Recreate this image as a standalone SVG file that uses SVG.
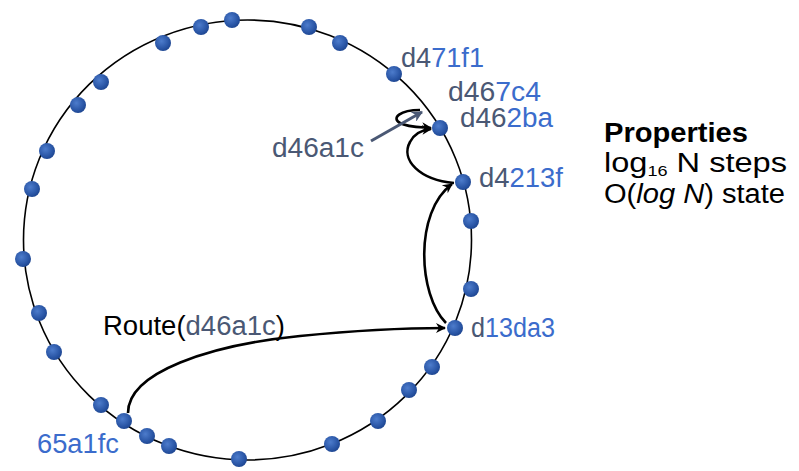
<svg xmlns="http://www.w3.org/2000/svg" width="799" height="471" viewBox="0 0 799 471">
<style>
  text { font-family: "Liberation Sans", Arial, sans-serif; font-size: 27px; }
  .s { fill: #4a5874; }
  .b { fill: #3b6ccc; }
  .k { fill: #000000; }
  .node { fill: url(#ball); }
  .hop { fill: none; stroke: #000; stroke-width: 2.6; marker-end: url(#ah); }
</style>
<defs>
  <radialGradient id="ball" cx="0.4" cy="0.38" r="0.65">
    <stop offset="0" stop-color="#4d7ccc"/>
    <stop offset="0.7" stop-color="#2a56a6"/>
    <stop offset="1" stop-color="#1d4590"/>
  </radialGradient>
  <marker id="ah" viewBox="0 0 10 10" refX="9" refY="5" markerWidth="12" markerHeight="10" markerUnits="userSpaceOnUse" orient="auto">
    <path d="M0,0 L10,5 L0,10 L3,5 Z" fill="#000"/>
  </marker>
  <marker id="ahs" viewBox="0 0 10 10" refX="9" refY="5" markerWidth="14" markerHeight="11" markerUnits="userSpaceOnUse" orient="auto">
    <path d="M0,0 L10,5 L0,10 L3,5 Z" fill="#4a5874"/>
  </marker>
</defs>
<rect width="799" height="471" fill="#fff"/>
<g id="ring">
  <ellipse cx="247.5" cy="240" rx="224" ry="220" fill="none" stroke="#000" stroke-width="1.6"/>
</g>
<g id="connectors">
  <path class="hop" d="M128,413 C128,372 210,345 300,336 C360,330 405,328 445,328"/>
  <path class="hop" d="M446,323 C418,295 414,212 452,184"/>
  <path class="hop" d="M454,183 C420,180 400,160 410,142 C414,134 421,130 431,129"/>
  <path class="hop" d="M420,110 C400,110 391,118 400,123 C407,127 418,127 431,128"/>
  <path d="M371,141 L422,112" fill="none" stroke="#4a5874" stroke-width="3" marker-end="url(#ahs)"/>
</g>
<g id="nodes">
  <g id="n1"><circle class="node" cx="232" cy="20" r="8"/></g>
  <g id="n2"><circle class="node" cx="201" cy="27" r="8"/></g>
  <g id="n3"><circle class="node" cx="163" cy="43" r="8"/></g>
  <g id="n4"><circle class="node" cx="101" cy="82" r="8"/></g>
  <g id="n5"><circle class="node" cx="78" cy="105" r="8"/></g>
  <g id="n6"><circle class="node" cx="47" cy="151" r="8"/></g>
  <g id="n7"><circle class="node" cx="32" cy="189" r="8"/></g>
  <g id="n8"><circle class="node" cx="23" cy="259" r="8"/></g>
  <g id="n9"><circle class="node" cx="39" cy="313" r="8"/></g>
  <g id="n10"><circle class="node" cx="54" cy="352" r="8"/></g>
  <g id="n11"><circle class="node" cx="101" cy="405" r="8"/></g>
  <g id="n65a1fc"><circle class="node" cx="124" cy="421" r="8"/>
    <text x="37" y="453" class="b" textLength="82" lengthAdjust="spacingAndGlyphs">65a1fc</text></g>
  <g id="n13"><circle class="node" cx="147" cy="436" r="8"/></g>
  <g id="n14"><circle class="node" cx="169" cy="446" r="8"/></g>
  <g id="n15"><circle class="node" cx="239" cy="459" r="8"/></g>
  <g id="n16"><circle class="node" cx="332" cy="444" r="8"/></g>
  <g id="n17"><circle class="node" cx="378" cy="421" r="8"/></g>
  <g id="n18"><circle class="node" cx="409" cy="390" r="8"/></g>
  <g id="n19"><circle class="node" cx="432" cy="367" r="8"/></g>
  <g id="nd13da3"><circle class="node" cx="455" cy="328" r="8"/>
    <text x="471" y="337" textLength="84" lengthAdjust="spacingAndGlyphs"><tspan class="s">d</tspan><tspan class="b">13da3</tspan></text></g>
  <g id="n21"><circle class="node" cx="471" cy="289" r="8"/></g>
  <g id="n22"><circle class="node" cx="471" cy="221" r="8"/></g>
  <g id="nd4213f"><circle class="node" cx="463" cy="182" r="8"/>
    <text x="479" y="187" textLength="84" lengthAdjust="spacingAndGlyphs"><tspan class="s">d4</tspan><tspan class="b">213f</tspan></text></g>
  <g id="nd462ba"><circle class="node" cx="440" cy="128" r="8"/>
    <text x="460" y="127" textLength="93" lengthAdjust="spacingAndGlyphs"><tspan class="s">d46</tspan><tspan class="b">2ba</tspan></text></g>
  <g id="nd467c4">
    <text x="448" y="101" textLength="93" lengthAdjust="spacingAndGlyphs"><tspan class="s">d46</tspan><tspan class="b">7c4</tspan></text></g>
  <g id="nd471f1"><circle class="node" cx="394" cy="74" r="8"/>
    <text x="401" y="67" textLength="83" lengthAdjust="spacingAndGlyphs"><tspan class="s">d4</tspan><tspan class="b">71f1</tspan></text></g>
  <g id="n26"><circle class="node" cx="340" cy="43" r="8"/></g>
  <g id="n27"><circle class="node" cx="309" cy="27" r="8"/></g>
</g>
<g id="labels">
  <text x="272" y="157" class="s" textLength="92" lengthAdjust="spacingAndGlyphs">d46a1c</text>
  <text x="103" y="335" textLength="182" lengthAdjust="spacingAndGlyphs"><tspan class="k">Route(</tspan><tspan class="s">d46a1c</tspan><tspan class="k">)</tspan></text>
</g>
<g id="properties">
  <text x="604" y="142" font-weight="bold" textLength="144" lengthAdjust="spacingAndGlyphs">Properties</text>
  <text x="604" y="172" textLength="183" lengthAdjust="spacingAndGlyphs">log<tspan font-size="15" dy="4">16</tspan><tspan dy="-4"> N steps</tspan></text>
  <text x="604" y="203" textLength="181" lengthAdjust="spacingAndGlyphs">O(<tspan font-style="italic">log N</tspan>) state</text>
</g>
</svg>
